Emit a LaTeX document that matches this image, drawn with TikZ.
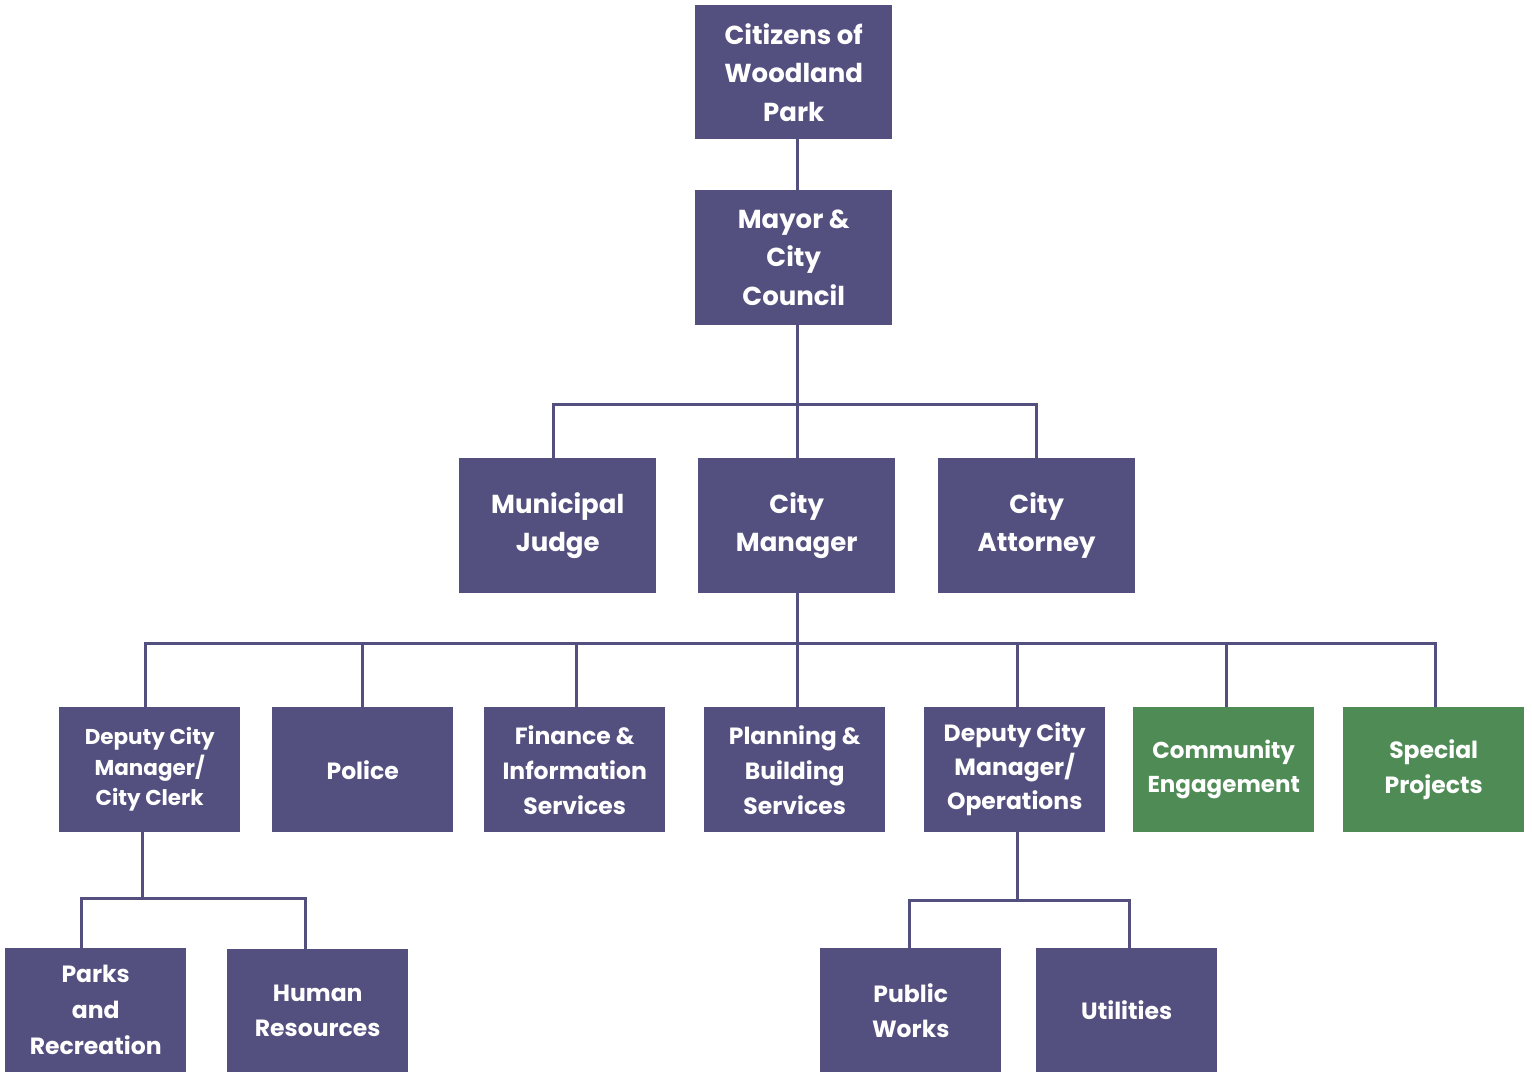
\documentclass[tikz,border=0pt]{standalone}
\usepackage{fontspec}
\setmainfont{Poppins}
\definecolor{boxpurple}{HTML}{534F7F}
\definecolor{boxgreen}{HTML}{4F8C55}
\begin{document}
\begin{tikzpicture}[x=1pt,y=1pt,
  box/.style={fill=boxpurple, text=white, anchor=north west, inner sep=0pt,
    align=center, font=\bfseries\fontsize{26}{38.5}\selectfont},
  gbox/.style={box, fill=boxgreen},
  smallbox/.style={font=\bfseries\fontsize{23.5}{35}\selectfont},
  tinybox/.style={font=\bfseries\fontsize{21.5}{30.5}\selectfont},
  conn/.style={draw=boxpurple, line width=3pt}]
\useasboundingbox (0,0) rectangle (1532,-1073);
% level 1-2
\node[box, minimum width=197, minimum height=134] (cit) at (695,-5) {Citizens of\\Woodland\\Park};
\node[box, minimum width=197, minimum height=135] (may) at (695,-190) {Mayor \&\\City\\Council};
% level 3
\node[box, minimum width=197, minimum height=135] (jud) at (459,-458) {Municipal\\Judge};
\node[box, minimum width=197, minimum height=135] (cm) at (698,-458) {City\\Manager};
\node[box, minimum width=197, minimum height=135] (att) at (938,-458) {City\\Attorney};
% level 4
\node[box, tinybox, minimum width=181, minimum height=125] (dcc) at (59,-707) {Deputy City\\Manager/\\City Clerk};
\node[box, smallbox, minimum width=181, minimum height=125] (pol) at (272,-707) {Police};
\node[box, smallbox, minimum width=181, minimum height=125] (fin) at (484,-707) {Finance \&\\Information\\Services};
\node[box, smallbox, minimum width=181, minimum height=125] (pla) at (704,-707) {Planning \&\\Building\\Services};
\node[box, font=\bfseries\fontsize{23.5}{34}\selectfont, minimum width=181, minimum height=125] (dco) at (924,-707) {Deputy City\\Manager/\\Operations};
\node[gbox, font=\bfseries\fontsize{23}{34}\selectfont, minimum width=181, minimum height=125] (com) at (1133,-707) {Community\\Engagement};
\node[gbox, smallbox, minimum width=181, minimum height=125] (spe) at (1343,-707) {Special\\Projects};
% level 5
\node[box, font=\bfseries\fontsize{23.5}{36}\selectfont, minimum width=181, minimum height=124] (par) at (5,-948) {Parks\\and\\Recreation};
\node[box, smallbox, minimum width=181, minimum height=123] (hr) at (227,-949) {Human\\Resources};
\node[box, smallbox, minimum width=181, minimum height=124] (pw) at (820,-948) {Public\\Works};
\node[box, smallbox, minimum width=181, minimum height=124] (uti) at (1036,-948) {Utilities};
% connector coordinates
\coordinate (t1) at (797,-404);
\coordinate (jx) at (553,-404);
\coordinate (ax) at (1036,-404);
\coordinate (t2) at (797,-643);
\coordinate (b1) at (145,-643);
\coordinate (b2) at (362,-643);
\coordinate (b3) at (576,-643);
\coordinate (b5) at (1017,-643);
\coordinate (b6) at (1226,-643);
\coordinate (b7) at (1435,-643);
\coordinate (t3) at (142,-898);
\coordinate (c1) at (81,-898);
\coordinate (c2) at (305,-898);
\coordinate (t4) at (1017,-900);
\coordinate (d1) at (909,-900);
\coordinate (d2) at (1129,-900);
% connectors
\draw[conn] (cit.south -| t1) -- (may.north -| t1);
\draw[conn] (may.south -| t1) -- (cm.north -| t1);
\draw[conn] (jud.north -| jx) -- (jx) -- (ax) -- (att.north -| ax);
\draw[conn] (cm.south -| t2) -- (pla.north -| t2);
\draw[conn] (dcc.north -| b1) -- (b1) -- (b7) -- (spe.north -| b7);
\draw[conn] (b2) -- (pol.north -| b2);
\draw[conn] (b3) -- (fin.north -| b3);
\draw[conn] (b5) -- (dco.north -| b5);
\draw[conn] (b6) -- (com.north -| b6);
\draw[conn] (dcc.south -| t3) -- (t3);
\draw[conn] (par.north -| c1) -- (c1) -- (c2) -- (hr.north -| c2);
\draw[conn] (dco.south -| t4) -- (t4);
\draw[conn] (pw.north -| d1) -- (d1) -- (d2) -- (uti.north -| d2);
\end{tikzpicture}
\end{document}
